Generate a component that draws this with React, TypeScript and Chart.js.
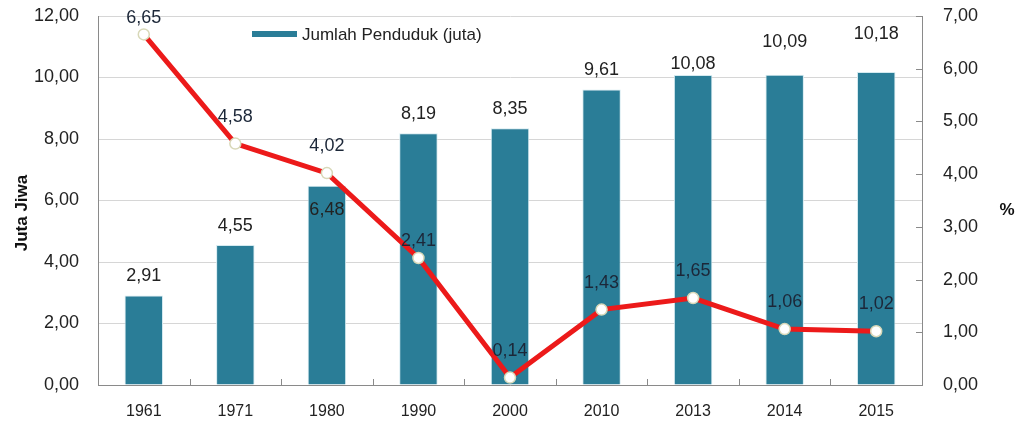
import React, { useEffect, useRef } from "react";
import { Chart, registerables } from "chart.js";

Chart.register(...registerables);

const years = ["1961", "1971", "1980", "1990", "2000", "2010", "2013", "2014", "2015"];
const population = [2.91, 4.55, 6.48, 8.19, 8.35, 9.61, 10.08, 10.09, 10.18];
const growth = [6.65, 4.58, 4.02, 2.41, 0.14, 1.43, 1.65, 1.06, 1.02];
const leftTicks = [0, 2, 4, 6, 8, 10, 12];
const rightTicks = [0, 1, 2, 3, 4, 5, 6, 7];

const BAR_COLOR = "#2a7d97";
const LINE_COLOR = "#ec1a1a";
const FONT = "'Liberation Sans', Arial, sans-serif";

const fmt = (v: number) => v.toFixed(2).replace(".", ",");

const overlayPlugin = {
  id: "overlay",
  afterDatasetsDraw(chart: any, _args: any, opts: any) {
    const ctx = chart.ctx;
    const area = chart.chartArea;
    const x = chart.scales.x;
    const yR = chart.scales.yR;
    ctx.save();
    ctx.strokeStyle = "#8a8a8a";
    ctx.lineWidth = 1;
    for (let i = 1; i < years.length; i++) {
      const px = Math.round((x.getPixelForValue(i - 1) + x.getPixelForValue(i)) / 2) + 0.5;
      ctx.beginPath();
      ctx.moveTo(px, area.bottom);
      ctx.lineTo(px, area.bottom - 6);
      ctx.stroke();
    }
    rightTicks.forEach((t) => {
      const py = Math.round(yR.getPixelForValue(t)) + 0.5;
      ctx.beginPath();
      ctx.moveTo(area.right - 6, py);
      ctx.lineTo(area.right, py);
      ctx.stroke();
    });

    ctx.font = `18px ${FONT}`;
    ctx.textAlign = "center";
    ctx.textBaseline = "middle";
    ctx.fillStyle = "#222";
    const barMeta = chart.getDatasetMeta(1);
    barMeta.data.forEach((el: any, i: number) => {
      const off = opts.barOffsets[i] ?? opts.barOffset;
      ctx.fillText(fmt(population[i]), el.x, el.y - off);
    });
    ctx.fillStyle = "#1c2738";
    const lineMeta = chart.getDatasetMeta(0);
    lineMeta.data.forEach((el: any, i: number) => {
      const off = opts.lineOffsets[i] ?? opts.lineOffset;
      ctx.fillText(fmt(growth[i]), el.x, el.y - off);
    });

    ctx.fillStyle = BAR_COLOR;
    ctx.fillRect(252, 31, 45, 6);
    ctx.fillStyle = "#222";
    ctx.textAlign = "left";
    ctx.font = `17px ${FONT}`;
    ctx.fillText("Jumlah Penduduk (juta)", 302, 35);

    ctx.font = `bold 17px ${FONT}`;
    ctx.fillStyle = "#111";
    ctx.textAlign = "center";
    ctx.fillText("%", 1007, 210);
    ctx.translate(22, 213);
    ctx.rotate(-Math.PI / 2);
    ctx.fillText("Juta Jiwa", 0, 0);
    ctx.restore();
  },
};

const zeroVPad = (s: any) => {
  s.paddingTop = 0;
  s.paddingBottom = 0;
};

export default function App() {
  const ref = useRef<HTMLCanvasElement>(null);

  useEffect(() => {
    document.body.style.margin = "0";
    const chart = new Chart(ref.current!, {
      type: "bar",
      data: {
        labels: years,
        datasets: [
          {
            type: "line",
            label: "Pertumbuhan (%)",
            data: growth,
            yAxisID: "yR",
            borderColor: LINE_COLOR,
            borderWidth: 5,
            pointRadius: 5.5,
            pointBackgroundColor: "#ffffff",
            pointBorderColor: "#d8d8b8",
            pointBorderWidth: 1.5,
            tension: 0,
            order: 0,
          } as any,
          {
            type: "bar",
            label: "Jumlah Penduduk (juta)",
            data: population,
            yAxisID: "y",
            backgroundColor: BAR_COLOR,
            borderColor: "#d4eaf0",
            borderWidth: 1,
            barPercentage: 0.42,
            categoryPercentage: 1,
            order: 1,
          },
        ],
      },
      options: {
        animation: false,
        responsive: false,
        layout: { padding: { top: 16, left: 0, right: 0, bottom: 0 } },
        plugins: {
          legend: { display: false },
          tooltip: { enabled: false },
          overlay: {
            barOffset: 19,
            barOffsets: { 2: -24, 6: 11, 7: 33, 8: 38 },
            lineOffset: 27,
            lineOffsets: { 0: 16, 3: 17 },
          },
        } as any,
        scales: {
          x: {
            offset: true,
            grid: { display: false, drawTicks: false },
            border: { display: true, color: "#8a8a8a", width: 1 },
            ticks: { padding: 17, color: "#222", font: { family: FONT, size: 16 } },
            afterFit: (s: any) => {
              s.height = 38;
              s.paddingLeft = 0;
              s.paddingRight = 0;
            },
          },
          y: {
            position: "left",
            min: 0,
            max: 12,
            afterBuildTicks: (s: any) => {
              s.ticks = leftTicks.map((v) => ({ value: v }));
            },
            grid: { color: "#d6d6d6", drawTicks: false },
            border: { display: true, color: "#8a8a8a", width: 1 },
            ticks: {
              padding: 19,
              color: "#222",
              font: { family: FONT, size: 18 },
              callback: (v: any) => fmt(Number(v)),
            },
            afterFit: (s: any) => {
              s.width = 98;
              zeroVPad(s);
            },
          },
          yR: {
            position: "right",
            min: 0,
            max: 7,
            afterBuildTicks: (s: any) => {
              s.ticks = rightTicks.map((v) => ({ value: v }));
            },
            grid: { display: false, drawTicks: false },
            border: { display: true, color: "#8a8a8a", width: 1 },
            ticks: {
              padding: 21,
              color: "#222",
              font: { family: FONT, size: 18 },
              callback: (v: any) => fmt(Number(v)),
            },
            afterFit: (s: any) => {
              s.width = 105;
              zeroVPad(s);
            },
          },
        },
      },
      plugins: [overlayPlugin],
    });
    return () => chart.destroy();
  }, []);

  return (
    <div style={{ position: "absolute", left: 0, top: 0, width: 1027, height: 423 }}>
      <canvas ref={ref} width={1027} height={423} style={{ display: "block" }} />
    </div>
  );
}
